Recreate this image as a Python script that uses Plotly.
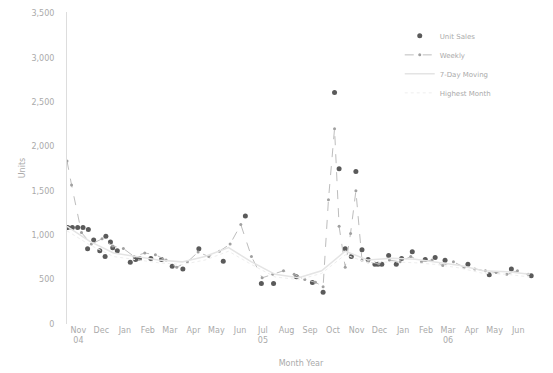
import plotly.graph_objects as go

# Monthly units (dark markers)
unit_dates = ["2004-11-02", "2004-11-08", "2004-11-15", "2004-11-22", "2004-11-29",
              "2004-11-28", "2004-12-06", "2004-12-14", "2004-12-21", "2004-12-22",
              "2004-12-28", "2004-12-31", "2005-01-06", "2005-01-23", "2005-01-30",
              "2005-02-04", "2005-02-19", "2005-03-05", "2005-03-19", "2005-04-02",
              "2005-04-23", "2005-05-25", "2005-06-23", "2005-07-14", "2005-07-30",
              "2005-08-29", "2005-09-19", "2005-10-03", "2005-10-18", "2005-10-24",
              "2005-11-01", "2005-11-09", "2005-11-15", "2005-11-23", "2005-12-01",
              "2005-12-10", "2005-12-14", "2005-12-19", "2005-12-28", "2006-01-07",
              "2006-01-14", "2006-01-28", "2006-02-14", "2006-02-27", "2006-03-12",
              "2006-04-11", "2006-05-09", "2006-06-07", "2006-07-03"]
unit_values = [1087, 1087, 1087, 1087, 1065,
               848, 946, 826, 761, 989,
               924, 859, 826, 696, 728,
               739, 739, 728, 652, 620,
               848, 707, 1217, 457, 457,
               533, 467, 359, 2609, 1750,
               848, 761, 1717, 837, 728,
               674, 674, 674, 772, 674,
               739, 815, 728, 750, 717,
               674, 554, 620, 543]

# Weekly series (grey dashed)
week_dates = ["2004-11-01", "2004-11-07", "2004-11-20", "2004-12-03", "2004-12-17",
              "2004-12-31", "2005-01-14", "2005-01-28", "2005-02-11", "2005-02-25",
              "2005-03-11", "2005-03-25", "2005-04-08", "2005-04-22", "2005-05-06",
              "2005-05-20", "2005-06-03", "2005-06-17", "2005-07-01", "2005-07-15",
              "2005-07-29", "2005-08-12", "2005-08-26", "2005-09-09", "2005-09-23",
              "2005-10-03", "2005-10-10", "2005-10-18", "2005-10-24", "2005-11-01",
              "2005-11-08", "2005-11-15", "2005-11-23", "2005-12-01", "2005-12-15",
              "2005-12-29", "2006-01-12", "2006-01-26", "2006-02-09", "2006-02-23",
              "2006-03-09", "2006-03-23", "2006-04-06", "2006-04-20", "2006-05-04",
              "2006-05-18", "2006-06-01", "2006-06-15", "2006-06-29"]
week_values = [1837, 1565, 1030, 900, 960,
               880, 850, 760, 800, 780,
               720, 640, 700, 810, 760,
               820, 900, 1120, 760, 520,
               560, 600, 560, 500, 470,
               420, 1400, 2200, 1100, 640,
               1020, 1500, 720, 700, 680,
               720, 700, 760, 700, 720,
               660, 700, 640, 620, 600,
               580, 560, 600, 560]

# Moving average (faint)
ma_dates = ["2004-11-01", "2004-12-01", "2005-01-01", "2005-02-01", "2005-03-01",
            "2005-04-01", "2005-05-01", "2005-06-01", "2005-07-01", "2005-08-01",
            "2005-09-01", "2005-10-01", "2005-11-01", "2005-12-01", "2006-01-01",
            "2006-02-01", "2006-03-01", "2006-04-01", "2006-05-01", "2006-06-01",
            "2006-07-01"]
ma_values = [1100, 930, 800, 760, 720,
             700, 760, 860, 700, 560,
             520, 600, 820, 720, 740,
             730, 700, 660, 600, 590, 560]
high_values = [1050, 890, 760, 720, 690,
               670, 720, 820, 670, 530,
               500, 570, 780, 690, 700,
               690, 670, 630, 570, 560, 530]

month_ticks = ["2004-11-16", "2004-12-16", "2005-01-16", "2005-02-15", "2005-03-16",
               "2005-04-16", "2005-05-16", "2005-06-16", "2005-07-16", "2005-08-16",
               "2005-09-16", "2005-10-16", "2005-11-16", "2005-12-16", "2006-01-16",
               "2006-02-15", "2006-03-16", "2006-04-16", "2006-05-16", "2006-06-16"]
month_labels = ["Nov<br>04", "Dec", "Jan", "Feb", "Mar", "Apr", "May", "Jun",
                "Jul<br>05", "Aug", "Sep", "Oct", "Nov", "Dec", "Jan", "Feb",
                "Mar<br>06", "Apr", "May", "Jun"]

fig = go.Figure()
fig.add_trace(go.Scatter(x=unit_dates, y=unit_values, mode="markers", name="Unit Sales",
                         marker=dict(color="#5a5a5a", size=5, symbol="circle")))
fig.add_trace(go.Scatter(x=week_dates, y=week_values, mode="lines+markers", name="Weekly",
                         line=dict(color="#bdbdbd", width=1, dash="dash"),
                         marker=dict(color="#a0a0a0", size=3)))
fig.add_trace(go.Scatter(x=ma_dates, y=ma_values, mode="lines", name="7-Day Moving",
                         line=dict(color="#e4e4e4", width=1.5)))
fig.add_trace(go.Scatter(x=ma_dates, y=high_values, mode="lines",
                         name="Highest Month", line=dict(color="#eeeeee", width=1, dash="dot")))

fig.update_layout(
    width=553, height=373,
    paper_bgcolor="white", plot_bgcolor="white",
    margin=dict(l=59, r=26, t=4, b=57, autoexpand=False),
    font=dict(family="DejaVu Sans", size=8, color="#aaaaaa"),
    showlegend=True,
    legend=dict(x=0.711, y=0.97, xanchor="left", yanchor="top",
                bgcolor="rgba(255,255,255,0)", borderwidth=0, tracegroupgap=0,
                font=dict(size=7, color="#aaaaaa")),
    xaxis=dict(range=["2004-11-01", "2006-07-08"], tickvals=month_ticks, ticktext=month_labels,
               showgrid=False, zeroline=False, showline=False, ticks="",
               title=dict(text="Month Year", font=dict(size=8, color="#aaaaaa"), standoff=15)),
    yaxis=dict(range=[0, 3515], tickvals=[0, 500, 1000, 1500, 2000, 2500, 3000, 3500],
               tickformat=",", showgrid=False, zeroline=False, ticklabelstandoff=10,
               showline=True, linecolor="#dddddd", linewidth=1,
               title=dict(text="Units", font=dict(size=8, color="#aaaaaa"), standoff=4)),
)

fig.write_html("out.html")
